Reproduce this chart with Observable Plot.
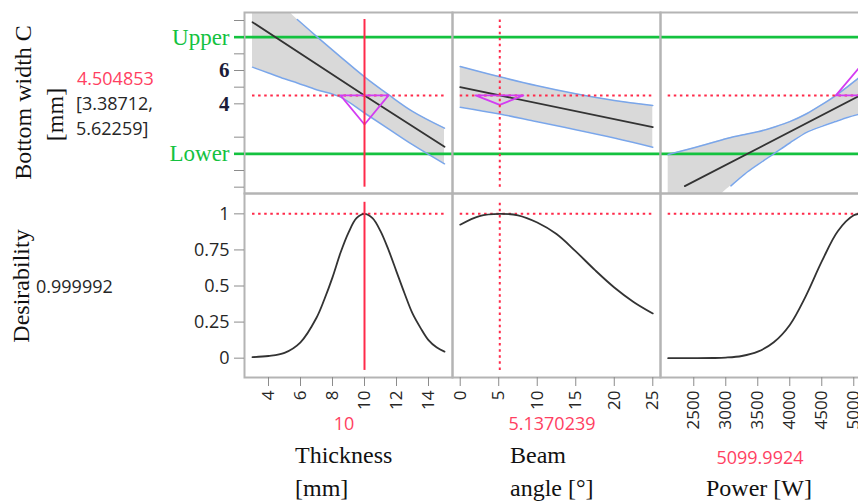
<!DOCTYPE html>
<html><head><meta charset="utf-8">
<script src="https://cdn.jsdelivr.net/npm/d3@7"></script>
<script src="https://cdn.jsdelivr.net/npm/@observablehq/plot@0.6"></script>
<style>
html,body{margin:0;padding:0;overflow:hidden;background:#fff;width:858px;height:504px;}
#root{position:relative;width:858px;height:504px;overflow:hidden;}
.panel{position:absolute;}
.panel svg{overflow:visible;display:block;max-width:none !important;}
#overlay{position:absolute;left:0;top:0;pointer-events:none;}
</style></head><body><div id="root"></div>
<script>
// ---------- data ----------
const factorNames = [["Thickness", "[mm]"], ["Beam", "angle [°]"], ["Power [W]"]];
const currentValues = [10, 5.1370239, 5099.9924];
const currentLabels = ["10", "5.1370239", "5099.9924"];
const responseName = ["Bottom width C", "[mm]"];
const predictedValue = 4.504853;
const predictedLabel = "4.504853";
const ciLabels = ["[3.38712,", "5.62259]"];
const desirabilityLabel = "0.999992";
const specLimits = [1, 8];
const specLabels = ["Lower", "Upper"];
const responseMajorTicks = [4, 6];
const responseMinorTicks = [-1, 0, 2, 5, 7, 9];
const desirabilityTicks = [0, 0.25, 0.5, 0.75, 1];

const thicknessTicks = [4, 6, 8, 10, 12, 14];
const beamTicks = [0, 5, 10, 15, 20, 25];
const powerTicks = [2500, 3000, 3500, 4000, 4500, 5000];

// prediction profile (response) per factor
const thicknessPred = [[3, 8.9], [10, 4.505], [15, 1.42]];
const thicknessBandX = [3, 4, 5, 5.8, 7, 8.5, 10, 11.5, 13, 15];
const thicknessUpper = [11.6, 10.7, 9.8, 9.06, 8.05, 6.82, 5.62, 4.55, 3.55, 2.54];
const thicknessLower = [6.2, 5.85, 5.5, 5.25, 4.85, 4.4, 3.45, 2.5, 1.55, 0.4];
const thicknessTriangle = [[8.5, 4.505], [11.5, 4.505], [10, 2.76], [8.5, 4.505]];

const beamPred = [[0, 5.0], [25, 2.6]];
const beamBandX = [0, 5.137, 10, 15, 20, 25];
const beamUpper = [6.24, 5.62, 5.08, 4.6, 4.2, 3.9];
const beamLower = [3.8, 3.39, 2.92, 2.45, 1.95, 1.4];
const beamTriangle = [[2.0, 4.505], [8.2, 4.505], [5.137, 3.94], [2.0, 4.505]];

const powerPred = [[2360, -0.94], [5100, 4.505]];
const powerBandX = [2100, 2400, 2700, 2950, 3080, 3300, 3500, 3750, 4000, 4270, 4500, 4700, 4900, 5100];
const powerUpper = [0.96, 1.26, 1.58, 1.85, 1.98, 2.16, 2.32, 2.6, 2.93, 3.42, 3.95, 4.45, 5.02, 5.62];
const powerLower = [-3.9, -3.0, -2.1, -1.35, -0.92, -0.2, 0.35, 1.0, 1.65, 2.3, 2.65, 2.92, 3.18, 3.39];
const powerTriangle = [[4720, 4.505], [5480, 4.505], [5100, 6.24], [4720, 4.505]];

// desirability profile per factor
const thicknessDesX = [3, 4, 5, 6, 7, 7.5, 8, 8.5, 9, 9.5, 10, 10.5, 11, 11.5, 12, 12.5, 13, 13.5, 14, 14.5, 15];
const thicknessDes = [0.007, 0.015, 0.037, 0.11, 0.28, 0.41, 0.56, 0.73, 0.87, 0.97, 1.0, 0.97, 0.88, 0.75, 0.6, 0.45, 0.31, 0.21, 0.125, 0.075, 0.045];
const beamDesX = [0, 2.5, 5.137, 7.5, 10, 12.5, 15, 17.5, 20, 22.5, 25];
const beamDes = [0.925, 0.985, 1.0, 0.99, 0.94, 0.86, 0.74, 0.61, 0.49, 0.39, 0.31];
const powerDesX = [2100, 2500, 2800, 3000, 3250, 3500, 3750, 4000, 4250, 4500, 4750, 5000, 5100];
const powerDes = [0, 0, 0.001, 0.004, 0.015, 0.045, 0.11, 0.23, 0.43, 0.67, 0.88, 0.99, 1.0];

// ---------- scales / layout ----------
const xDomains = [[2.5, 15.5], [-1, 26], [1980, 5230]];
const topYDomain = [-1.38, 9.48];
const botYDomain = [-0.134, 1.141];
const lineClipTop = [-1.0, 9.06];   // visible vertical extent of lines in response row
const lineClipBot = [-0.085, 1.08]; // visible vertical extent in desirability row

const green = "#14c23f", red = "#ff2a4a", redText = "#ff3f62", magenta = "#d33cf2",
      blue = "#7aa6ea", bandFill = "#d9d9d9", frameGray = "#b4b4b4", tickGray = "#8c8c8c",
      ink = "#262626";
const serif = "'Liberation Serif','DejaVu Serif',serif";
const sans = "'Open Sans','Noto Sans',sans-serif";

const panelLeft = [244, 452, 660];
const panelWidth = 208;
const topY = 12, topH = 181, botY = 193, botH = 184;
const axisMargin = 84, xAxisMargin = 62;

const factors = [
  {pred: thicknessPred, bandX: thicknessBandX, upper: thicknessUpper, lower: thicknessLower, tri: thicknessTriangle,
   desX: thicknessDesX, des: thicknessDes, ticks: thicknessTicks, solid: true},
  {pred: beamPred, bandX: beamBandX, upper: beamUpper, lower: beamLower, tri: beamTriangle,
   desX: beamDesX, des: beamDes, ticks: beamTicks, solid: false},
  {pred: powerPred, bandX: powerBandX, upper: powerUpper, lower: powerLower, tri: powerTriangle,
   desX: powerDesX, des: powerDes, ticks: powerTicks, solid: false}
];

const root = document.getElementById("root");
const dotted = {strokeDasharray: "2.5,3.6"};

function place(svg, left, top, w, h) {
  const div = document.createElement("div");
  div.className = "panel";
  div.style.left = left + "px";
  div.style.top = top + "px";
  div.style.width = w + "px";
  div.style.height = h + "px";
  svg.style.width = w + "px";
  svg.style.height = h + "px";
  svg.style.maxWidth = "none";
  div.appendChild(svg);
  root.appendChild(div);
}

factors.forEach((f, i) => {
  const first = i === 0;
  const ml = first ? axisMargin : 0;
  const xr = [f.bandX[0], f.bandX[f.bandX.length - 1]];
  const bandData = f.bandX.map((x, k) => ({x, lo: f.lower[k], hi: f.upper[k]}));
  const upPts = f.bandX.map((x, k) => ({x, y: f.upper[k]}));
  const loPts = f.bandX.map((x, k) => ({x, y: f.lower[k]}));
  const vis = d => d.y >= lineClipTop[0] - 0.01 && d.y <= lineClipTop[1] + 0.01;
  const curStyle = f.solid ? {} : dotted;

  const topMarks = [
    Plot.areaY(bandData, {x: "x", y1: "lo", y2: "hi", fill: bandFill, curve: "catmull-rom", clip: true}),
    Plot.ruleY(specLimits, {stroke: green, strokeWidth: 2.6}),
    Plot.line(upPts, {x: "x", y: "y", filter: vis, stroke: blue, strokeWidth: 1.5, curve: "catmull-rom", clip: true}),
    Plot.line(loPts, {x: "x", y: "y", filter: vis, stroke: blue, strokeWidth: 1.5, curve: "catmull-rom", clip: true}),
    Plot.ruleY([predictedValue], {x1: xr[0], x2: xr[1], stroke: red, strokeWidth: 2, ...dotted}),
    Plot.line(f.pred, {x: d => d[0], y: d => d[1], stroke: "#333", strokeWidth: 1.8, clip: true}),
    Plot.line(f.tri, {x: d => d[0], y: d => d[1], stroke: magenta, strokeWidth: 1.8, clip: true}),
    Plot.ruleX([currentValues[i]], {y1: lineClipTop[0], y2: lineClipTop[1], stroke: red, strokeWidth: 2, clip: true, ...curStyle}),
    Plot.frame({stroke: frameGray, strokeWidth: 2})
  ];
  if (first) {
    topMarks.push(
      Plot.axisY(responseMinorTicks, {anchor: "left", tickSize: 10, stroke: tickGray, tickFormat: () => "", label: null}),
      Plot.axisY(responseMajorTicks, {anchor: "left", tickSize: 10, tickPadding: 5, stroke: tickGray, fill: "#1c1c38",
        fontFamily: serif, fontSize: 21, fontWeight: "bold", tickFormat: d => String(d), label: null}),
      Plot.axisY(specLimits, {anchor: "left", tickSize: 10, tickPadding: 5, stroke: green, strokeWidth: 2.6, fill: green,
        fontFamily: serif, fontSize: 23, tickFormat: d => specLabels[specLimits.indexOf(d)], label: null})
    );
  }
  const topW = ml + panelWidth;
  const top = Plot.plot({
    width: topW, height: topH,
    marginLeft: ml, marginRight: 0, marginTop: 0, marginBottom: 0,
    x: {domain: xDomains[i], axis: null},
    y: {domain: topYDomain, axis: null},
    style: {fontFamily: sans, fontSize: "17px", color: ink, background: "transparent", overflow: "visible"},
    marks: topMarks
  });
  place(top, panelLeft[i] - ml, topY, topW, topH);

  const desPts = f.desX.map((x, k) => ({x, y: f.des[k]}));
  const botMarks = [
    Plot.ruleY([1], {x1: xr[0], x2: xr[1], stroke: red, strokeWidth: 2, ...dotted}),
    Plot.line(desPts, {x: "x", y: "y", stroke: "#333", strokeWidth: 1.8, curve: "catmull-rom", clip: true}),
    Plot.ruleX([currentValues[i]], {y1: lineClipBot[0], y2: lineClipBot[1], stroke: red, strokeWidth: 2, clip: true, ...curStyle}),
    Plot.frame({stroke: frameGray, strokeWidth: 2}),
    Plot.axisX(f.ticks, {anchor: "bottom", tickSize: 9, tickPadding: 4, tickRotate: -90, stroke: tickGray, fill: ink,
      fontFamily: sans, fontSize: 17, tickFormat: d => String(d), label: null})
  ];
  if (first) {
    botMarks.push(
      Plot.axisY(desirabilityTicks, {anchor: "left", tickSize: 10, tickPadding: 5, stroke: tickGray, fill: ink,
        fontFamily: sans, fontSize: 18, tickFormat: d => String(d), label: null})
    );
  }
  const botW = ml + panelWidth, botHt = botH + xAxisMargin;
  const bot = Plot.plot({
    width: botW, height: botHt,
    marginLeft: ml, marginRight: 0, marginTop: 0, marginBottom: xAxisMargin,
    x: {domain: xDomains[i], axis: null},
    y: {domain: botYDomain, axis: null},
    style: {fontFamily: sans, fontSize: "17px", color: ink, background: "transparent", overflow: "visible"},
    marks: botMarks
  });
  place(bot, panelLeft[i] - ml, botY, botW, botHt);
});

// ---------- loose labels ----------
const svg = d3.select(root).append("svg").attr("id", "overlay").attr("width", 858).attr("height", 504);
function txt(s, x, y, o = {}) {
  const t = svg.append("text").text(s)
    .attr("font-family", o.family || serif).attr("font-size", o.size || 24)
    .attr("fill", o.fill || "#111").attr("text-anchor", o.anchor || "start");
  if (o.rotate) t.attr("transform", `translate(${x},${y}) rotate(-90)`);
  else t.attr("x", x).attr("y", y);
  return t;
}
txt(responseName[0], 31, 102.5, {rotate: true, anchor: "middle"});
txt(responseName[1], 63, 114.5, {rotate: true, anchor: "middle"});
txt("Desirability", 29, 286, {rotate: true, anchor: "middle"});
txt(predictedLabel, 77, 85, {family: sans, size: 18, fill: redText});
txt(ciLabels[0], 76, 110, {family: sans, size: 18, fill: ink});
txt(ciLabels[1], 76, 135, {family: sans, size: 18, fill: ink});
txt(desirabilityLabel, 36, 293, {family: sans, size: 18, fill: ink});

const valueCenters = panelLeft.map(l => l + panelWidth / 2 - 4);
txt(currentLabels[0], valueCenters[0], 430, {family: sans, size: 18, fill: redText, anchor: "middle"});
txt(currentLabels[1], valueCenters[1], 430, {family: sans, size: 18, fill: redText, anchor: "middle"});
txt(currentLabels[2], valueCenters[2], 464, {family: sans, size: 18, fill: redText, anchor: "middle"});
txt(factorNames[0][0], 295, 463);
txt(factorNames[0][1], 295, 496);
txt(factorNames[1][0], 510, 463);
txt(factorNames[1][1], 510, 496);
txt(factorNames[2][0], 706, 496);
</script></body></html>
